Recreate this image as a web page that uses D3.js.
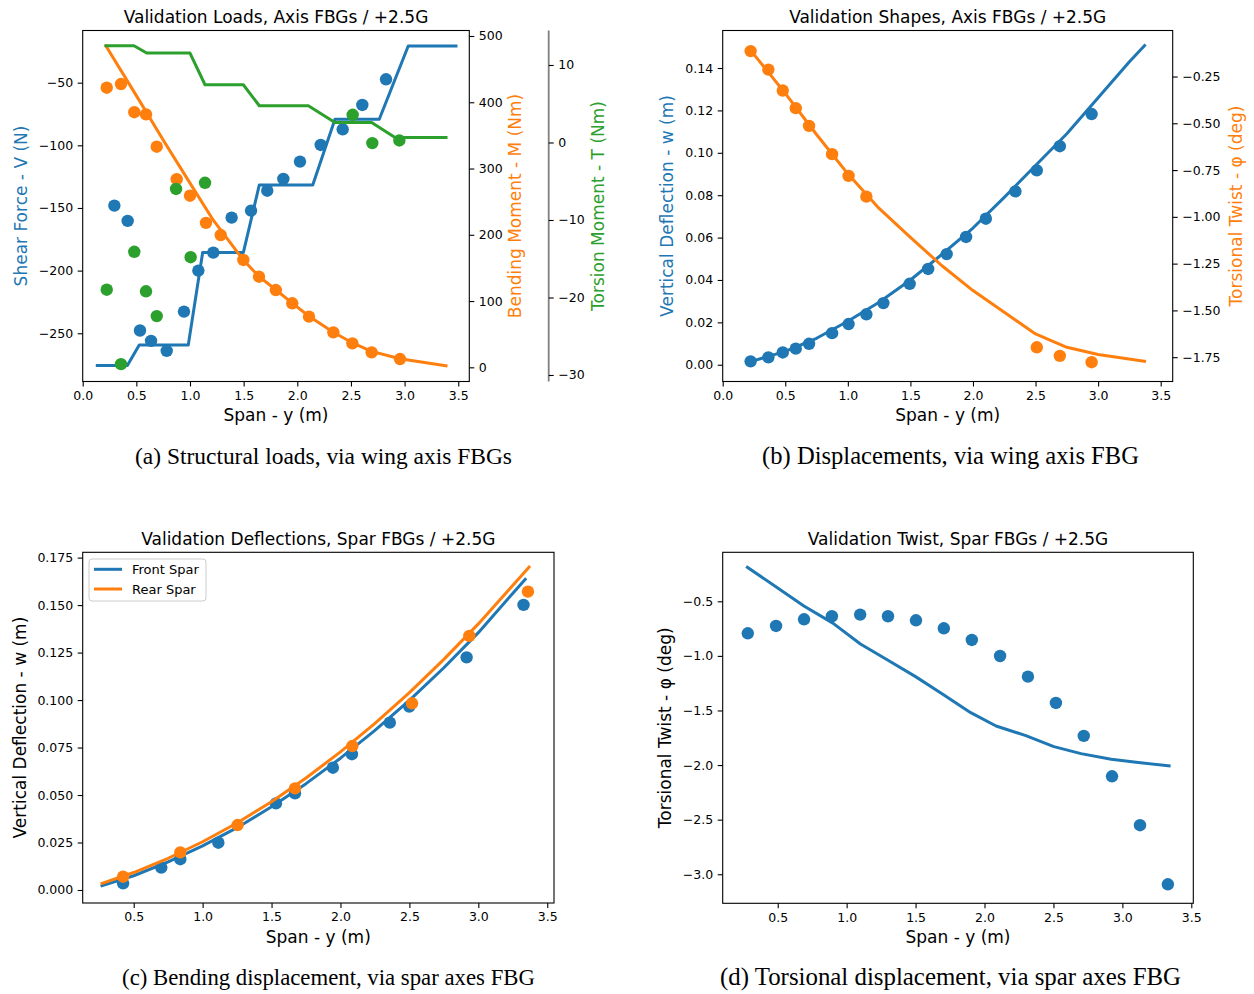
<!DOCTYPE html>
<html><head><meta charset="utf-8">
<script src="https://cdn.jsdelivr.net/npm/d3@7"></script>
<style>body{margin:0;background:#fff}</style>
</head><body>
<svg id="c" width="1254" height="994" xmlns="http://www.w3.org/2000/svg"></svg>
<script>
// ---------- Panel (a): structural loads ----------
const aShearLineY = [0.136,0.416,0.527,0.984,1.118,1.497,1.646,2.144,2.351,2.764,3.034,3.479];
const aShearLineV = [-275.8,-275.8,-259.3,-259.3,-185.6,-185.6,-131.6,-131.6,-79.2,-79.2,-20.7,-20.7];
const aShearPtsY = [0.295,0.419,0.534,0.637,0.783,0.944,1.078,1.217,1.388,1.569,1.72,1.87,2.025,2.218,2.423,2.606,2.827];
const aShearPtsV = [-148.1,-160.3,-247.8,-256.1,-264.0,-232.7,-200.0,-185.6,-157.7,-152.1,-136.2,-126.8,-113.0,-99.7,-87.2,-67.8,-47.3];
const aMomentLineY = [0.217,0.5,0.75,1.0,1.217,1.497,1.643,1.8,1.953,2.109,2.336,2.513,2.693,2.957,3.386];
const aMomentLineM = [485,410,343,278,222,162,137,117,97,77,53,37,24,13,2.4];
const aMomentPtsY = [0.224,0.357,0.481,0.59,0.69,0.876,1.0,1.149,1.286,1.497,1.643,1.8,1.953,2.109,2.336,2.513,2.693,2.957];
const aMomentPtsM = [422,427.5,385,381.7,332.9,284,259,218,199.6,162,136.7,116.6,96.6,76.5,52.8,36.2,22.6,12.5];
const aTorsionLineY = [0.217,0.478,0.596,1.0,1.14,1.497,1.646,2.103,2.351,2.693,2.911,3.386];
const aTorsionLineT = [12.48,12.48,11.54,11.54,7.45,7.45,4.74,4.74,2.58,2.58,0.645,0.645];
const aTorsionPtsY = [0.224,0.357,0.481,0.59,0.69,0.87,1.006,1.14,2.516,2.699,2.951];
const aTorsionPtsT = [-19.0,-28.6,-14.1,-19.2,-22.4,-6.0,-14.8,-5.2,3.57,-0.08,0.26];
const aXTicks = [0,0.5,1,1.5,2,2.5,3,3.5];
const aVTicks = [-250,-200,-150,-100,-50];
const aMTicks = [0,100,200,300,400,500];
const aTTicks = [-30,-20,-10,0,10];

// ---------- Panel (b): displacements ----------
const bDeflLineY = [0.223,0.5,0.75,1.0,1.25,1.5,1.75,2.0,2.25,2.5,2.75,3.0,3.25,3.371];
const bDeflLineW = [0.0015,0.0063,0.0125,0.0205,0.0295,0.040,0.052,0.0645,0.079,0.094,0.109,0.126,0.143,0.1506];
const bDeflPtsY = [0.223,0.365,0.48,0.584,0.69,0.874,1.006,1.148,1.284,1.494,1.642,1.79,1.945,2.103,2.339,2.51,2.694,2.948];
const bDeflPtsW = [0.0016,0.0035,0.0058,0.0076,0.0099,0.0149,0.0192,0.0238,0.0291,0.0382,0.0452,0.0522,0.0603,0.0689,0.0818,0.0917,0.1031,0.1183];
const bTwistLineY = [0.223,0.5,0.75,1.0,1.25,1.5,1.75,2.0,2.25,2.5,2.75,3.0,3.371];
const bTwistLineP = [-0.11,-0.34,-0.56,-0.77,-0.955,-1.11,-1.26,-1.394,-1.51,-1.626,-1.697,-1.736,-1.772];
const bTwistPtsY = [0.223,0.365,0.48,0.584,0.69,0.874,1.006,1.148,2.51,2.694,2.948];
const bTwistPtsP = [-0.114,-0.213,-0.325,-0.419,-0.514,-0.665,-0.781,-0.892,-1.697,-1.743,-1.777];
const bXTicks = [0,0.5,1,1.5,2,2.5,3,3.5];
const bWTicks = [0,0.02,0.04,0.06,0.08,0.10,0.12,0.14];
const bPTicks = [-1.75,-1.5,-1.25,-1.0,-0.75,-0.5,-0.25];

// ---------- Panel (c): spar deflections ----------
const cFrontLineY = [0.27,0.5,0.75,1.0,1.25,1.5,1.75,2.0,2.25,2.5,2.75,3.0,3.34];
const cFrontLineW = [0.0023,0.0075,0.0148,0.0232,0.0328,0.0438,0.0560,0.0694,0.0840,0.0998,0.1170,0.1355,0.1636];
const cRearLineY = [0.27,0.5,0.75,1.0,1.25,1.5,1.75,2.0,2.25,2.5,2.75,3.0,3.368];
const cRearLineW = [0.0035,0.0092,0.0167,0.0254,0.0353,0.0465,0.0590,0.0727,0.0877,0.1039,0.1214,0.1401,0.170];
const cFrontPtsY = [0.423,0.70,0.838,1.114,1.532,1.67,1.945,2.083,2.358,2.499,2.915,3.328];
const cFrontPtsW = [0.0035,0.0118,0.0162,0.0249,0.0456,0.0509,0.0644,0.0715,0.0881,0.0966,0.1225,0.1501];
const cRearPtsY = [0.423,0.838,1.254,1.67,2.086,2.519,2.935,3.36];
const cRearPtsW = [0.0070,0.0198,0.0342,0.0535,0.0758,0.0983,0.1338,0.1571];
const cSeries = ["Front Spar","Rear Spar"];
const cXTicks = [0.5,1,1.5,2,2.5,3,3.5];
const cWTicks = [0,0.025,0.05,0.075,0.1,0.125,0.15,0.175];

// ---------- Panel (d): spar twist ----------
const dLineY = [0.28,0.5,0.69,0.9,1.1,1.3,1.5,1.7,1.9,2.084,2.3,2.503,2.7,2.919,3.1,3.339];
const dLineP = [-0.189,-0.378,-0.543,-0.70,-0.891,-1.04,-1.19,-1.354,-1.52,-1.642,-1.73,-1.831,-1.895,-1.947,-1.975,-2.008];
const dPtsY = [0.283,0.488,0.691,0.893,1.098,1.30,1.503,1.705,1.908,2.113,2.315,2.518,2.72,2.925,3.128,3.33];
const dPtsP = [-0.793,-0.726,-0.665,-0.637,-0.622,-0.637,-0.674,-0.747,-0.854,-1.001,-1.19,-1.431,-1.733,-2.103,-2.551,-3.092];
const dXTicks = [0.5,1,1.5,2,2.5,3,3.5];
const dPTicks = [-3.0,-2.5,-2.0,-1.5,-1.0,-0.5];

// ---------- drawing ----------
const BLUE="#1f77b4", ORANGE="#ff7f0e", GREEN="#2ca02c";
const FONT="DejaVu Sans, sans-serif";
const svg=d3.select("#c");
svg.append("rect").attr("width",1254).attr("height",994).attr("fill","#fff");

const zip=(a,b)=>a.map((v,i)=>[v,b[i]]);

function styleAxis(g){
  g.attr("font-family",FONT).attr("font-size",12.5);
  g.select(".domain").remove();
  g.selectAll(".tick line").attr("stroke","#000").attr("stroke-width",1.1);
  g.selectAll(".tick text").attr("fill","#000");
}
function drawLine(g,x,y,xs,ys,color){
  g.append("path").datum(zip(xs,ys))
   .attr("fill","none").attr("stroke",color).attr("stroke-width",3)
   .attr("stroke-linejoin","round").attr("stroke-linecap","square")
   .attr("d",d3.line().x(d=>x(d[0])).y(d=>y(d[1])));
}
function drawPts(g,x,y,xs,ys,color){
  g.selectAll(null).data(zip(xs,ys)).enter().append("circle")
   .attr("cx",d=>x(d[0])).attr("cy",d=>y(d[1])).attr("r",6.2).attr("fill",color);
}
function frame(g,L,R,T,B){
  g.append("rect").attr("x",L).attr("y",T).attr("width",R-L).attr("height",B-T)
   .attr("fill","none").attr("stroke","#000").attr("stroke-width",1.1);
}
function title(txt,x,y){
  svg.append("text").attr("x",x).attr("y",y).attr("text-anchor","middle")
   .attr("font-family",FONT).attr("font-size",17).attr("fill","#000").text(txt);
}
function xlabel(txt,x,y){ title(txt,x,y); }
function ylabel(txt,x,cy,color){
  svg.append("text").attr("transform",`translate(${x},${cy}) rotate(-90)`)
   .attr("text-anchor","middle").attr("font-family",FONT).attr("font-size",17)
   .attr("fill",color).text(txt);
}
function xAxis(x,B,ticks,fmt){
  svg.append("g").attr("transform",`translate(0,${B})`)
   .call(d3.axisBottom(x).tickValues(ticks).tickFormat(d3.format(fmt)).tickSizeOuter(0).tickSize(5).tickPadding(4.5))
   .call(styleAxis);
}
function yAxisL(y,L,ticks,fmt){
  svg.append("g").attr("transform",`translate(${L},0)`)
   .call(d3.axisLeft(y).tickValues(ticks).tickFormat(d3.format(fmt)).tickSizeOuter(0).tickSize(5).tickPadding(4.5))
   .call(styleAxis);
}
function yAxisR(y,R,ticks,fmt){
  svg.append("g").attr("transform",`translate(${R},0)`)
   .call(d3.axisRight(y).tickValues(ticks).tickFormat(d3.format(fmt)).tickSizeOuter(0).tickSize(5).tickPadding(4.5))
   .call(styleAxis);
}

// Panel a
(function(){
  const L=82.7,R=469.3,T=30.5,B=381.5;
  const x=d3.scaleLinear([0,3.603],[L,R]);
  const yV=d3.scaleLinear([-288.5,-8.35],[B,T]);
  const yM=d3.scaleLinear([-21.4,508.3],[B,T]);
  const yT=d3.scaleLinear([-30.84,14.45],[B,T]);
  const g=svg.append("g");
  drawLine(g,x,yV,aShearLineY,aShearLineV,BLUE);
  drawPts(g,x,yV,aShearPtsY,aShearPtsV,BLUE);
  drawLine(g,x,yM,aMomentLineY,aMomentLineM,ORANGE);
  drawPts(g,x,yM,aMomentPtsY,aMomentPtsM,ORANGE);
  drawLine(g,x,yT,aTorsionLineY,aTorsionLineT,GREEN);
  drawPts(g,x,yT,aTorsionPtsY,aTorsionPtsT,GREEN);
  frame(svg,L,R,T,B);
  xAxis(x,B,aXTicks,".1f");
  yAxisL(yV,L,aVTicks,"d");
  yAxisR(yM,R,aMTicks,"d");
  const gs=svg.append("g");
  gs.append("line").attr("x1",548.7).attr("x2",548.7).attr("y1",T).attr("y2",B)
    .attr("stroke","#808080").attr("stroke-width",1.8);
  yAxisR(yT,548.7,aTTicks,"d");
  title("Validation Loads, Axis FBGs / +2.5G",276,23);
  xlabel("Span - y (m)",276,420.5);
  ylabel("Shear Force - V (N)",27,206,BLUE);
  ylabel("Bending Moment - M (Nm)",521,206,ORANGE);
  ylabel("Torsion Moment - T (Nm)",604,206,GREEN);
})();

// Panel b
(function(){
  const L=722.7,R=1172.7,T=30.5,B=381.5;
  const x=d3.scaleLinear([0,3.596],[L,R]);
  const yW=d3.scaleLinear([-0.0079,0.1577],[B,T]);
  const yP=d3.scaleLinear([-1.880,-0.004],[B,T]);
  const g=svg.append("g");
  drawLine(g,x,yW,bDeflLineY,bDeflLineW,BLUE);
  drawPts(g,x,yW,bDeflPtsY,bDeflPtsW,BLUE);
  drawLine(g,x,yP,bTwistLineY,bTwistLineP,ORANGE);
  drawPts(g,x,yP,bTwistPtsY,bTwistPtsP,ORANGE);
  frame(svg,L,R,T,B);
  xAxis(x,B,bXTicks,".1f");
  yAxisL(yW,L,bWTicks,".2f");
  yAxisR(yP,R,bPTicks,".2f");
  title("Validation Shapes, Axis FBGs / +2.5G",947.7,23);
  xlabel("Span - y (m)",947.7,420.5);
  ylabel("Vertical Deflection - w (m)",673,206,BLUE);
  ylabel("Torsional Twist - \u03c6 (deg)",1241.7,206,ORANGE);
})();

// Panel c
(function(){
  const L=82.7,R=554,T=552.3,B=903;
  const x=d3.scaleLinear([0.130,3.549],[L,R]);
  const y=d3.scaleLinear([-0.00685,0.1778],[B,T]);
  const g=svg.append("g");
  drawLine(g,x,y,cFrontLineY,cFrontLineW,BLUE);
  drawPts(g,x,y,cFrontPtsY,cFrontPtsW,BLUE);
  drawLine(g,x,y,cRearLineY,cRearLineW,ORANGE);
  drawPts(g,x,y,cRearPtsY,cRearPtsW,ORANGE);
  frame(svg,L,R,T,B);
  xAxis(x,B,cXTicks,".1f");
  yAxisL(y,L,cWTicks,".3f");
  title("Validation Deflections, Spar FBGs / +2.5G",318.3,545);
  xlabel("Span - y (m)",318.3,943);
  ylabel("Vertical Deflection - w (m)",25.5,727.6,"#000");
  // legend
  const lg=svg.append("g");
  lg.append("rect").attr("x",89).attr("y",559).attr("width",117).attr("height",42).attr("rx",3)
    .attr("fill","#fff").attr("fill-opacity",0.8).attr("stroke","#cccccc").attr("stroke-width",1);
  const cols=[BLUE,ORANGE];
  cSeries.forEach((s,i)=>{
    const cy=569.3+i*19.7;
    lg.append("line").attr("x1",94).attr("x2",122).attr("y1",cy).attr("y2",cy)
      .attr("stroke",cols[i]).attr("stroke-width",3);
    lg.append("text").attr("x",132).attr("y",cy+4.6).attr("font-family",FONT)
      .attr("font-size",13).attr("fill","#000").text(s);
  });
})();

// Panel d
(function(){
  const L=722.7,R=1193.3,T=552.3,B=903.3;
  const x=d3.scaleLinear([0.101,3.5145],[L,R]);
  const y=d3.scaleLinear([-3.266,-0.0513],[B,T]);
  const g=svg.append("g");
  drawLine(g,x,y,dLineY,dLineP,BLUE);
  drawPts(g,x,y,dPtsY,dPtsP,BLUE);
  frame(svg,L,R,T,B);
  xAxis(x,B,dXTicks,".1f");
  yAxisL(y,L,dPTicks,".1f");
  title("Validation Twist, Spar FBGs / +2.5G",958,545);
  xlabel("Span - y (m)",958,943);
  ylabel("Torsional Twist - \u03c6 (deg)",671,727.8,"#000");
})();

// captions
const captions=[
  ["(a) Structural loads, via wing axis FBGs",323.5,464,377],
  ["(b) Displacements, via wing axis FBG",950.5,464,377],
  ["(c) Bending displacement, via spar axes FBG",328.5,985,413],
  ["(d) Torsional displacement, via spar axes FBG",950.5,985,461]
];
captions.forEach(([t,x,y,w])=>{
  const el=svg.append("text").attr("x",x).attr("y",y).attr("text-anchor","middle")
    .attr("font-family","Liberation Serif, serif").attr("font-size",18).attr("fill","#000").text(t);
  const m=el.node().getComputedTextLength();
  if(m>0) el.attr("font-size",(18*w/m).toFixed(2));
});
</script>
</body></html>
